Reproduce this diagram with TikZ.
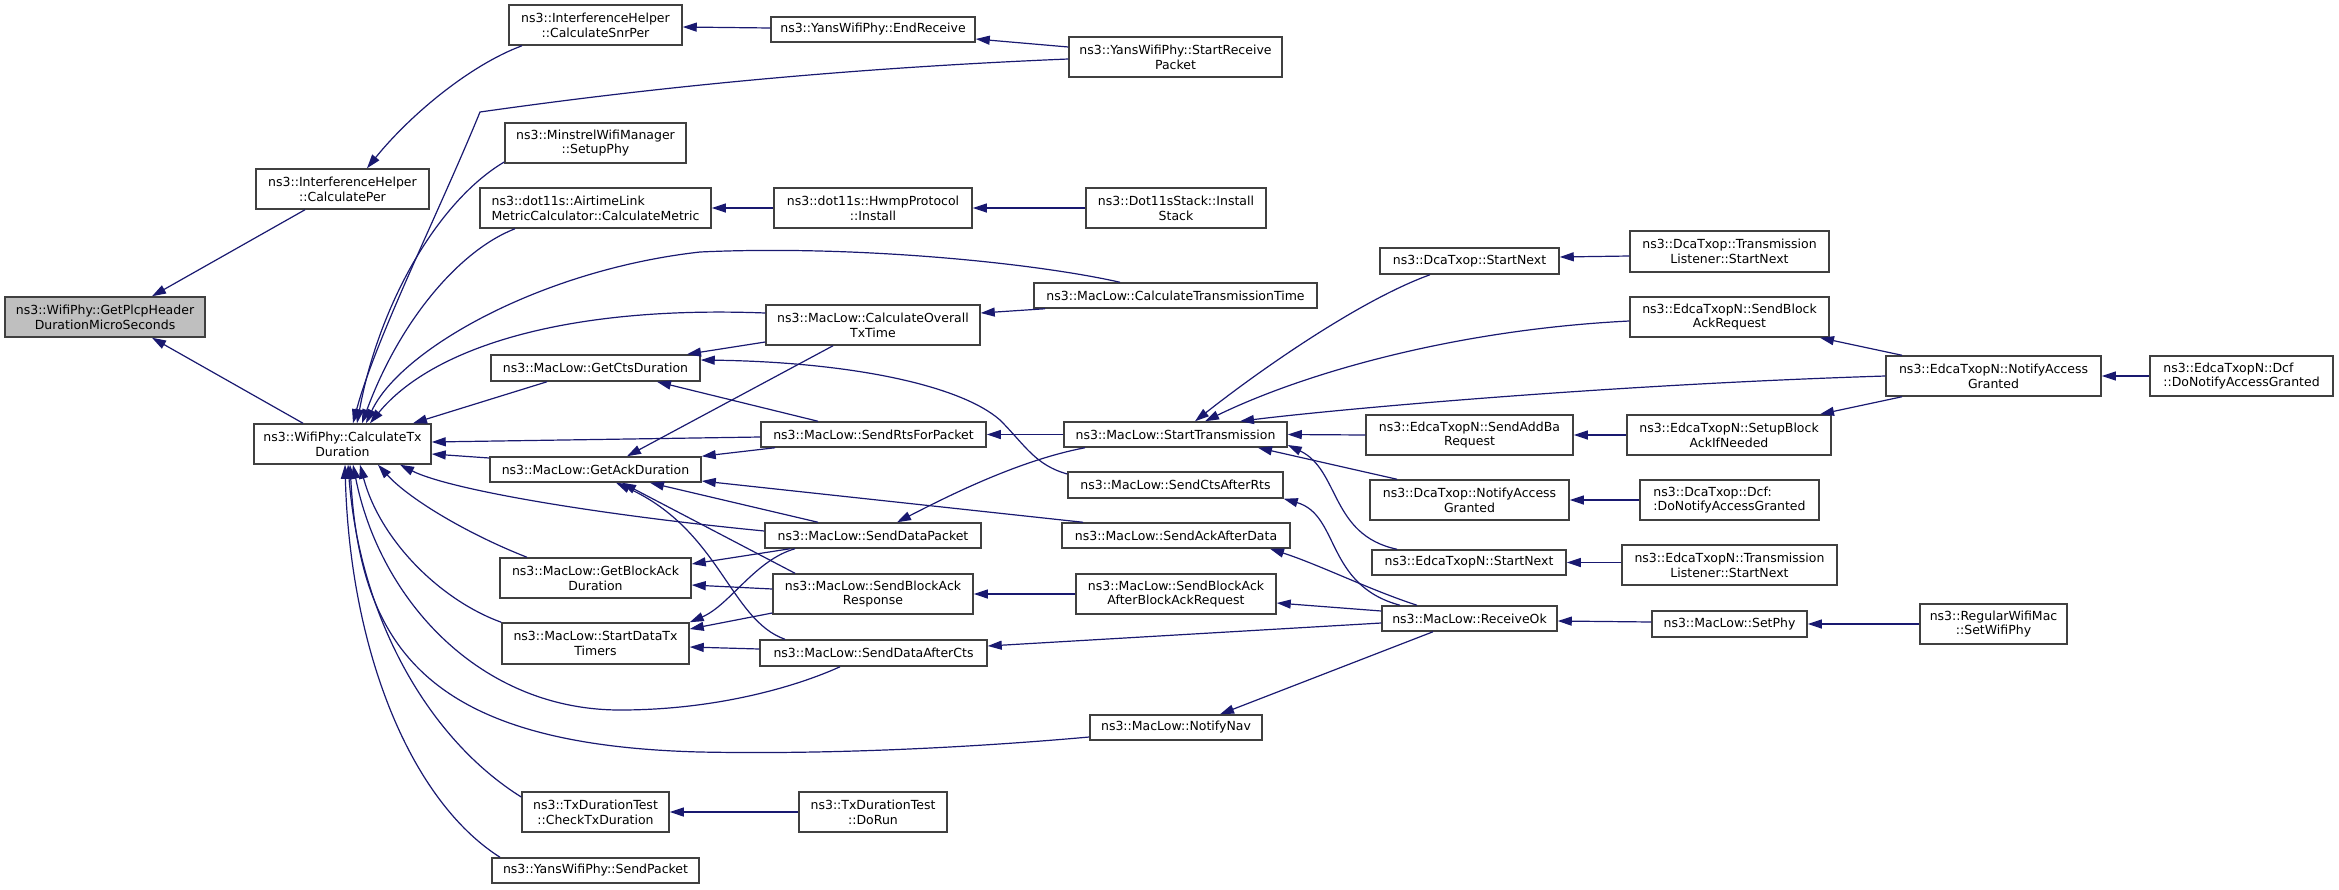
\documentclass[tikz,border=0pt]{standalone}
\usepackage{fontspec}
\setmainfont{DejaVu Sans}
\usetikzlibrary{arrows.meta}
\definecolor{edgec}{HTML}{191970}
\definecolor{boxc}{HTML}{404040}
\definecolor{rootc}{HTML}{BFBFBF}
\newcommand{\nodefnt}{\fontsize{6.25pt}{7.35pt}\selectfont}
\begin{document}
\begin{tikzpicture}[x=0.5pt,y=-0.5pt,
  box/.style={draw=boxc, line width=0.75pt, fill=white, inner sep=0pt, align=center, font=\nodefnt, text=black},
  sz/.style 2 args={minimum width=#1*0.5pt, minimum height=#2*0.5pt},
  cl/.style={draw=edgec, line width=0.6pt, {Triangle[length=7pt,width=4.5pt]}-}]
\useasboundingbox (0,0) rectangle (2339,889);
% nodes
\node[box,sz={200}{40},fill=rootc] (root) at (105,317) {ns3::WifiPhy::GetPlcpHeader\\DurationMicroSeconds};
\node[box,sz={173}{40}] (cper) at (342.5,189) {ns3::InterferenceHelper\\::CalculatePer};
\node[box,sz={177}{40}] (ctx) at (342.5,444) {ns3::WifiPhy::CalculateTx\\Duration};
\node[box,sz={173}{40}] (snr) at (595.5,25) {ns3::InterferenceHelper\\::CalculateSnrPer};
\node[box,sz={204}{25}] (endr) at (873,29.5) {ns3::YansWifiPhy::EndReceive};
\node[box,sz={213}{40}] (srp) at (1175.5,57) {ns3::YansWifiPhy::StartReceive\\Packet};
\node[box,sz={181}{40}] (minst) at (595.5,143) {ns3::MinstrelWifiManager\\::SetupPhy};
\node[box,sz={231}{40},align=left] (air) at (595.5,208) {ns3::dot11s::AirtimeLink\\MetricCalculator::CalculateMetric};
\node[box,sz={198}{40}] (hwmp) at (873,208) {ns3::dot11s::HwmpProtocol\\::Install};
\node[box,sz={180}{40}] (dstk) at (1176,208) {ns3::Dot11sStack::Install\\Stack};
\node[box,sz={283}{25}] (ctt) at (1175.5,295.5) {ns3::MacLow::CalculateTransmissionTime};
\node[box,sz={214}{40}] (cov) at (873,325) {ns3::MacLow::CalculateOverall\\TxTime};
\node[box,sz={209}{26}] (gcts) at (595.5,368) {ns3::MacLow::GetCtsDuration};
\node[box,sz={225}{25}] (rts) at (873.5,434.5) {ns3::MacLow::SendRtsForPacket};
\node[box,sz={211}{25}] (gack) at (595.5,469.5) {ns3::MacLow::GetAckDuration};
\node[box,sz={216}{25}] (sdp) at (873,535.5) {ns3::MacLow::SendDataPacket};
\node[box,sz={191}{40}] (gba) at (595.5,578) {ns3::MacLow::GetBlockAck\\Duration};
\node[box,sz={200}{40}] (sbar) at (873,594) {ns3::MacLow::SendBlockAck\\Response};
\node[box,sz={187}{41}] (sdt) at (595.5,643.5) {ns3::MacLow::StartDataTx\\Timers};
\node[box,sz={227}{26}] (sdac) at (873.5,653) {ns3::MacLow::SendDataAfterCts};
\node[box,sz={147}{40}] (ctd) at (595.5,812) {ns3::TxDurationTest\\::CheckTxDuration};
\node[box,sz={148}{40}] (dorun) at (873,812) {ns3::TxDurationTest\\::DoRun};
\node[box,sz={207}{25}] (spk) at (595.5,870.5) {ns3::YansWifiPhy::SendPacket};
\node[box,sz={223}{25}] (st) at (1175.5,434.5) {ns3::MacLow::StartTransmission};
\node[box,sz={215}{26}] (scar) at (1175.5,485) {ns3::MacLow::SendCtsAfterRts};
\node[box,sz={228}{25}] (saad) at (1176,535.5) {ns3::MacLow::SendAckAfterData};
\node[box,sz={200}{40}] (sbaa) at (1176,594) {ns3::MacLow::SendBlockAck\\AfterBlockAckRequest};
\node[box,sz={172}{25}] (nnav) at (1176,727.5) {ns3::MacLow::NotifyNav};
\node[box,sz={179}{26}] (dsn) at (1469.5,261) {ns3::DcaTxop::StartNext};
\node[box,sz={199}{41}] (dtl) at (1729.5,251.5) {ns3::DcaTxop::Transmission\\Listener::StartNext};
\node[box,sz={199}{40}] (esbr) at (1729.5,317) {ns3::EdcaTxopN::SendBlock\\AckRequest};
\node[box,sz={207}{40}] (eaba) at (1469.5,435) {ns3::EdcaTxopN::SendAddBa\\Request};
\node[box,sz={204}{40}] (esba) at (1729,435) {ns3::EdcaTxopN::SetupBlock\\AckIfNeeded};
\node[box,sz={199}{40}] (dnag) at (1469.5,500) {ns3::DcaTxop::NotifyAccess\\Granted};
\node[box,sz={179}{40},align=left] (ddcf) at (1729.5,500) {ns3::DcaTxop::Dcf:\\:DoNotifyAccessGranted};
\node[box,sz={194}{25}] (estn) at (1469,562.5) {ns3::EdcaTxopN::StartNext};
\node[box,sz={215}{40}] (etl) at (1729.5,565) {ns3::EdcaTxopN::Transmission\\Listener::StartNext};
\node[box,sz={175}{25}] (rok) at (1469.5,618.5) {ns3::MacLow::ReceiveOk};
\node[box,sz={155}{26}] (sphy) at (1729.5,624) {ns3::MacLow::SetPhy};
\node[box,sz={147}{40}] (swp) at (1993.5,624) {ns3::RegularWifiMac\\::SetWifiPhy};
\node[box,sz={215}{40}] (enag) at (1993.5,376) {ns3::EdcaTxopN::NotifyAccess\\Granted};
\node[box,sz={183}{40},align=left] (edcf) at (2241.5,376) {ns3::EdcaTxopN::Dcf\\::DoNotifyAccessGranted};
% edges (arrow head at the callee)
\draw[cl] (root.north -| 152,0) -- (cper.south -| 305,0);
\draw[cl] (root.south -| 152,0) -- (ctx.north -| 303,0);
\draw[cl] (cper.north -| 367,0) .. controls (410,115) and (470,65) .. (snr.south -| 522,0);
\draw[cl] (snr.east |- 0,27) -- (endr.west |- 0,28);
\draw[cl] (endr.east |- 0,39) -- (srp.west |- 0,47);
\draw[cl] (ctx.north -| 353,0) .. controls (375,340) and (440,210) .. (480,112) .. controls (600,95) and (800,70) .. (srp.west |- 0,59);
\draw[cl] (ctx.north -| 357,0) .. controls (380,300) and (440,200) .. (minst.west |- 0,162);
\draw[cl] (ctx.north -| 362,0) .. controls (400,320) and (460,250) .. (air.south -| 515,0);
\draw[cl] (ctx.north -| 366,0) .. controls (400,350) and (540,270) .. (700,252) .. controls (850,245) and (1030,262) .. (ctt.north -| 1120,0);
\draw[cl] (ctx.north -| 370,0) .. controls (430,350) and (560,305) .. (cov.west |- 0,313);
\draw[cl] (ctx.north -| 413,0) -- (gcts.south -| 547,0);
\draw[cl] (ctx.east |- 0,442) -- (rts.west |- 0,437);
\draw[cl] (ctx.east |- 0,454) -- (gack.west |- 0,458);
\draw[cl] (ctx.south -| 400,0) .. controls (450,490) and (600,515) .. (sdp.west |- 0,531);
\draw[cl] (ctx.south -| 378,0) .. controls (410,500) and (470,535) .. (gba.north -| 527,0);
\draw[cl] (ctx.south -| 360,0) .. controls (380,540) and (440,600) .. (sdt.north west);
\draw[cl] (ctx.south -| 353,0) .. controls (380,600) and (480,710) .. (620,710) .. controls (720,710) and (800,685) .. (sdac.south -| 840,0);
\draw[cl] (ctx.south -| 350,0) .. controls (360,650) and (430,745) .. (700,752) .. controls (850,755) and (1000,745) .. (nnav.west |- 0,737);
\draw[cl] (ctx.south -| 348,0) .. controls (360,620) and (430,740) .. (ctd.west |- 0,797);
\draw[cl] (ctx.south -| 345,0) .. controls (350,650) and (410,800) .. (spk.north -| 500,0);
\draw[cl] (air.east) -- (hwmp.west);
\draw[cl] (hwmp.east) -- (dstk.west);
\draw[cl] (cov.east |- 0,313) -- (ctt.south -| 1045,0);
\draw[cl] (gack.north -| 627,0) -- (cov.south -| 833,0);
\draw[cl] (gcts.north -| 687,0) -- (cov.west |- 0,342);
\draw[cl] (gcts.south -| 657,0) -- (rts.north -| 818,0);
\draw[cl] (gcts.east |- 0,360) .. controls (850,362) and (960,385) .. (1000,420) .. controls (1025,445) and (1035,465) .. (scar.west |- 0,474);
\draw[cl] (gack.north east) -- (rts.south -| 775,0);
\draw[cl] (gack.east |- 0,481) -- (saad.north -| 1083,0);
\draw[cl] (gack.south -| 650,0) -- (sdp.north -| 818,0);
\draw[cl] (gack.south -| 622,0) -- (sbar.north -| 795,0);
\draw[cl] (gack.south -| 616,0) .. controls (720,530) and (730,620) .. (sdac.north -| 785,0);
\draw[cl] (gba.east |- 0,564) -- (sdp.south -| 790,0);
\draw[cl] (gba.east |- 0,585) -- (sbar.west |- 0,589);
\draw[cl] (sdt.north east) .. controls (730,605) and (755,560) .. (sdp.south -| 795,0);
\draw[cl] (sdt.east |- 0,629) -- (sbar.west |- 0,613);
\draw[cl] (sdt.east |- 0,647) -- (sdac.west |- 0,649);
\draw[cl] (ctd.east) -- (dorun.west);
\draw[cl] (rts.east) -- (st.west);
\draw[cl] (sdp.north -| 897,0) .. controls (950,495) and (1020,460) .. (st.south -| 1085,0);
\draw[cl] (sbar.east) -- (sbaa.west);
\draw[cl] (sdac.east |- 0,646) -- (rok.west |- 0,623);
\draw[cl] (sbaa.east |- 0,603) -- (rok.west |- 0,611);
\draw[cl] (saad.south -| 1270,0) .. controls (1320,565) and (1370,590) .. (rok.north -| 1417,0);
\draw[cl] (scar.south east) .. controls (1340,515) and (1325,585) .. (rok.north -| 1400,0);
\draw[cl] (nnav.north -| 1220,0) -- (rok.south -| 1433,0);
\draw[cl] (rok.east |- 0,621) -- (sphy.west |- 0,622);
\draw[cl] (sphy.east) -- (swp.west);
\draw[cl] (st.north -| 1195,0) .. controls (1260,370) and (1360,300) .. (dsn.south -| 1430,0);
\draw[cl] (st.north -| 1205,0) .. controls (1300,375) and (1450,330) .. (esbr.west |- 0,321);
\draw[cl] (st.north -| 1240,0) .. controls (1330,410) and (1600,385) .. (enag.west |- 0,376);
\draw[cl] (st.east) -- (eaba.west);
\draw[cl] (st.south -| 1258,0) -- (dnag.north -| 1397,0);
\draw[cl] (st.east |- 0,445) .. controls (1340,470) and (1330,535) .. (estn.north -| 1397,0);
\draw[cl] (dsn.east |- 0,257) -- (dtl.west |- 0,256);
\draw[cl] (esbr.south -| 1820,0) -- (enag.north -| 1902,0);
\draw[cl] (esba.north -| 1820,0) -- (enag.south -| 1902,0);
\draw[cl] (eaba.east) -- (esba.west);
\draw[cl] (enag.east) -- (edcf.west);
\draw[cl] (dnag.east) -- (ddcf.west);
\draw[cl] (estn.east) -- (etl.west |- estn.east);
\end{tikzpicture}
\end{document}
